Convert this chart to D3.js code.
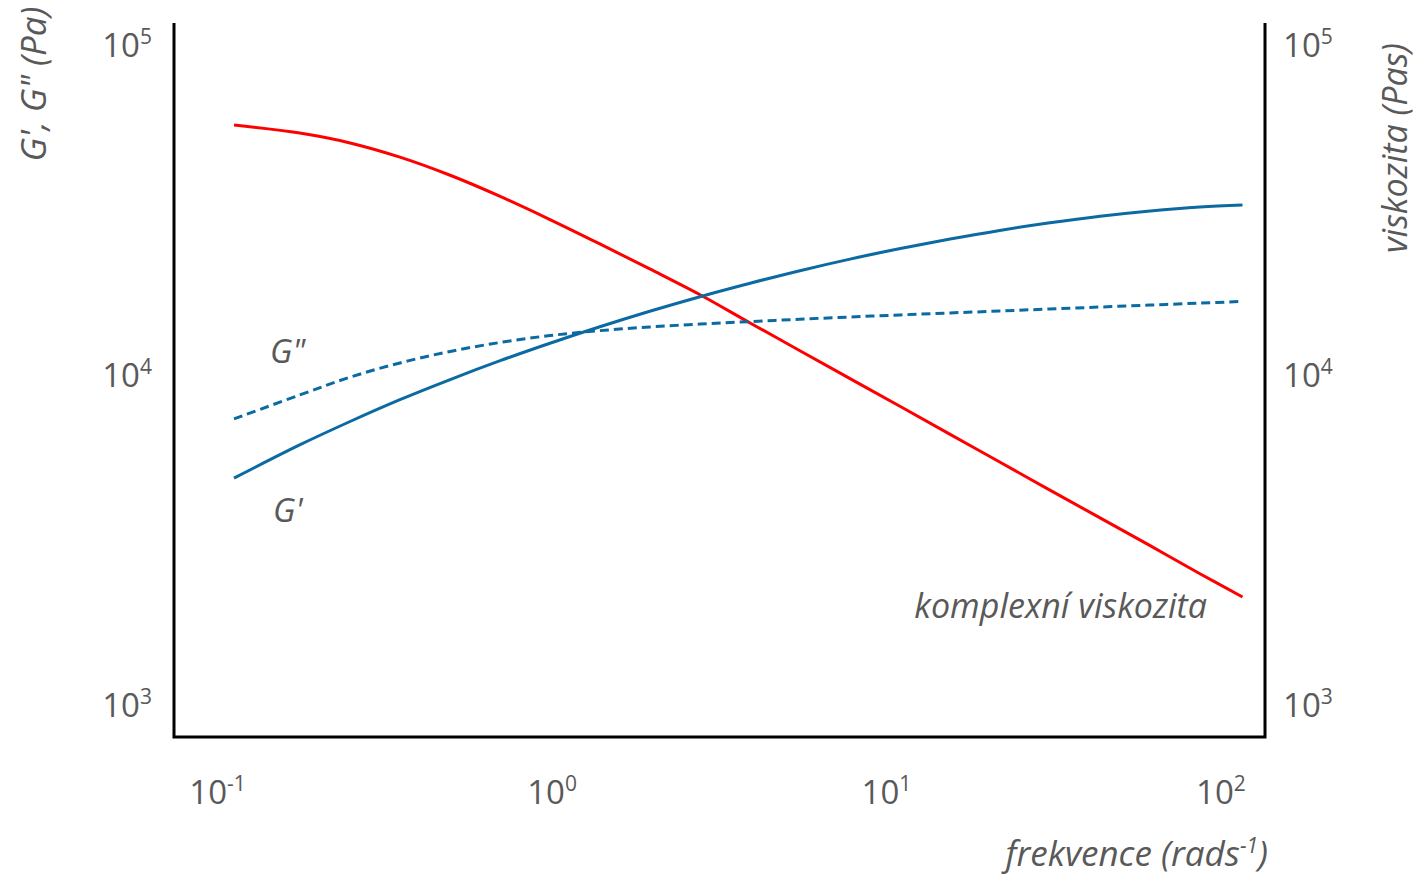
<!DOCTYPE html>
<html>
<head>
<meta charset="utf-8">
<script src="https://cdn.jsdelivr.net/npm/d3@7"></script>
<style>
  html, body { margin: 0; padding: 0; background: #fff; }
  svg { display: block; }
  text { font-family: "Open Sans", "Noto Sans", sans-serif; fill: #595959; }
</style>
</head>
<body>
<svg id="chart" width="1418" height="876"></svg>
<script>
// Angular frequency (rad/s)
const frequency = [0.112, 0.176, 0.249, 0.351, 0.496, 0.7, 0.986, 1.39, 1.96, 2.77, 3.91,
                   5.51, 7.78, 11.0, 15.5, 21.8, 30.8, 43.5, 61.4, 86.5, 116];
// Storage modulus G' (Pa)
const storageModulus = [4870, 6140, 7230, 8420, 9690, 11050, 12480, 14000, 15600, 17270, 18970,
                        20710, 22450, 24160, 25830, 27430, 28920, 30280, 31420, 32300, 32750];
// Loss modulus G'' (Pa)
const lossModulus = [7360, 8700, 9850, 10880, 11790, 12550, 13170, 13630, 13980, 14270, 14520,
                     14760, 14990, 15210, 15420, 15630, 15850, 16070, 16290, 16520, 16710];
// Complex viscosity (Pa·s)
const complexViscosity = [57200, 54100, 50500, 45730, 40300, 34770, 29590, 24960, 20960, 17510, 14380,
                          11850, 9750, 8030, 6610, 5450, 4480, 3690, 3040, 2500, 2125];

const xTickExponents = [-1, 0, 1, 2];
const yTickExponents = [3, 4, 5];

const svg = d3.select("#chart");
const plot = { left: 174, right: 1265, top: 23, bottom: 737 };

const x = d3.scaleLog().domain([0.0741, 135.4]).range([plot.left, plot.right]);
const y = d3.scaleLog().domain([800, 116600]).range([plot.bottom, plot.top]);

const blue = "#0b6aa2";
const red = "#ff0000";

// Curves
const line = d3.line()
  .x(d => x(d[0]))
  .y(d => y(d[1]))
  .curve(d3.curveCatmullRom.alpha(0.5));

const series = [
  { values: complexViscosity, color: red, dash: null },
  { values: lossModulus, color: blue, dash: "9,5" },
  { values: storageModulus, color: blue, dash: null }
];

svg.append("g").selectAll("path")
  .data(series)
  .join("path")
  .attr("d", s => line(frequency.map((f, i) => [f, s.values[i]])))
  .attr("fill", "none")
  .attr("stroke", s => s.color)
  .attr("stroke-width", 3)
  .attr("stroke-dasharray", s => s.dash);

// Axes: plain lines without tick marks
const axes = svg.append("g").attr("stroke", "#000").attr("stroke-width", 3).attr("fill", "none");
axes.append("path").attr("d", d3.line()([
  [plot.left, plot.top], [plot.left, plot.bottom], [plot.right, plot.bottom], [plot.right, plot.top]
]));

// Power-of-ten label helper
function powerLabel(sel, exp) {
  sel.append("tspan").text("10");
  sel.append("tspan").attr("dy", -13).attr("font-size", 21).text(exp < 0 ? "-" + (-exp) : exp);
}

// X tick labels
svg.append("g").selectAll("text")
  .data(xTickExponents)
  .join("text")
  .attr("x", e => x(Math.pow(10, e)))
  .attr("y", 804)
  .attr("text-anchor", "middle")
  .attr("font-size", 33)
  .each(function(e) { powerLabel(d3.select(this), e); });

// Left Y tick labels
svg.append("g").selectAll("text")
  .data(yTickExponents)
  .join("text")
  .attr("x", 152)
  .attr("y", e => y(Math.pow(10, e)) + 12)
  .attr("text-anchor", "end")
  .attr("font-size", 33)
  .each(function(e) { powerLabel(d3.select(this), e); });

// Right Y tick labels
svg.append("g").selectAll("text")
  .data(yTickExponents)
  .join("text")
  .attr("x", 1308)
  .attr("y", e => y(Math.pow(10, e)) + 12)
  .attr("text-anchor", "middle")
  .attr("font-size", 33)
  .each(function(e) { powerLabel(d3.select(this), e); });

// Axis titles
svg.append("text")
  .attr("transform", "translate(46,84) rotate(-90)")
  .attr("text-anchor", "middle")
  .attr("font-size", 35)
  .attr("font-style", "italic")
  .text("G', G\" (Pa)");

svg.append("text")
  .attr("transform", "translate(1407,148) rotate(-90)")
  .attr("text-anchor", "middle")
  .attr("font-size", 34)
  .attr("font-style", "italic")
  .text("viskozita (Pas)");

const xTitle = svg.append("text")
  .attr("x", 1268)
  .attr("y", 866)
  .attr("text-anchor", "end")
  .attr("font-size", 35)
  .attr("font-style", "italic");
xTitle.append("tspan").text("frekvence (rads");
xTitle.append("tspan").attr("dy", -13).attr("font-size", 21).text("-1");
xTitle.append("tspan").attr("dy", 13).text(")");

// Series labels
svg.append("text")
  .attr("x", 270).attr("y", 363)
  .attr("font-size", 33).attr("font-style", "italic")
  .text("G\"");
svg.append("text")
  .attr("x", 273).attr("y", 522)
  .attr("font-size", 33).attr("font-style", "italic")
  .text("G'");
svg.append("text")
  .attr("x", 1207).attr("y", 618)
  .attr("text-anchor", "end")
  .attr("font-size", 34).attr("font-style", "italic")
  .text("komplexní viskozita");
</script>
</body>
</html>
